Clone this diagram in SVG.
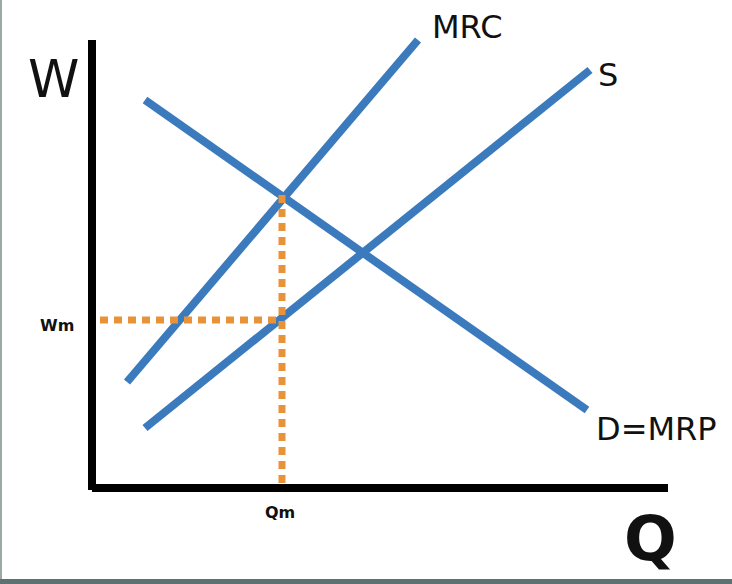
<svg xmlns="http://www.w3.org/2000/svg" width="732" height="584" viewBox="0 0 732 584">
<style>
.c{stroke:#3b7bbd;stroke-width:8;fill:none;stroke-linecap:butt}
.d{stroke:#e8923a;stroke-width:7;fill:none;stroke-dasharray:8 6}
.ax{stroke:#000;stroke-width:8;fill:none}
text{font-family:"DejaVu Sans",sans-serif;fill:#111}
</style>
<rect width="732" height="584" fill="#fff"/>
<rect x="0" y="0" width="2" height="584" fill="#9aa8a8"/>
<rect x="0" y="579" width="732" height="5" fill="#5d7270"/>
<g id="axes">
<path class="ax" d="M92,40 V490 M92,488 H668"/>
<text x="28" y="97" font-size="52">W</text>
<text x="624" y="560" font-size="62" font-weight="bold">Q</text>
</g>
<g id="connectors">
<path class="c" d="M127,382 L418,40"/>
<path class="c" d="M145,428 L590,70"/>
<path class="c" d="M145,100 L587,410"/>
<path class="d" d="M100,320 H282"/>
<path class="d" d="M282,195 V484"/>
</g>
<g id="labels">
<text x="432" y="38" font-size="32">MRC</text>
<text x="598" y="86" font-size="32">S</text>
<text x="596" y="440" font-size="32">D=MRP</text>
<text x="40" y="331" font-size="16" font-weight="bold">Wm</text>
<text x="265" y="518" font-size="16" font-weight="bold">Qm</text>
</g>
</svg>
